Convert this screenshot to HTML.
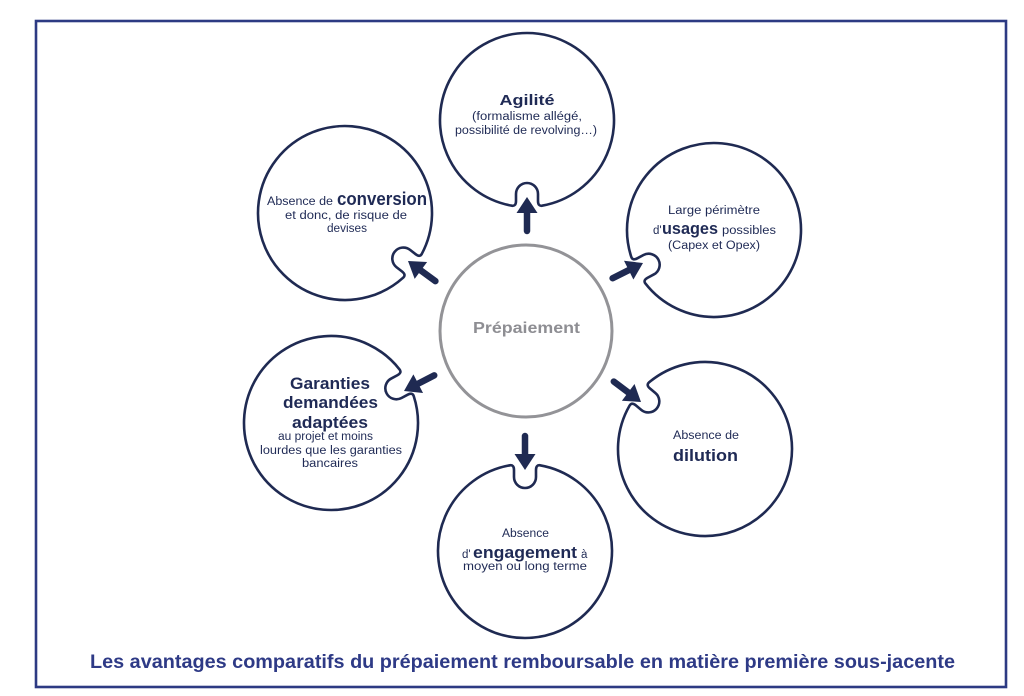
<!DOCTYPE html>
<html>
<head>
<meta charset="utf-8">
<style>
html,body{margin:0;padding:0;background:#fff;}
svg{display:block;}
text{font-family:"Liberation Sans",sans-serif;}
</style>
</head>
<body>
<svg width="1024" height="696" viewBox="0 0 1024 696" xmlns="http://www.w3.org/2000/svg">
<defs>
<path id="nc" d="M85.7,-15 A87,87 0 1 0 85.7,15 Q86.3,11 81,11 L74,11 A11,11 0 0 1 74,-11 L81,-11 Q86.3,-11 85.7,-15 Z" fill="none" stroke="#1f2a52" stroke-width="2.6" stroke-linejoin="round"/>
<g id="ar">
<line x1="-34" y1="0" x2="-13" y2="0" stroke="#1f2a52" stroke-width="6.5" stroke-linecap="round"/>
<polygon points="0,0 -16,-10.5 -16,10.5" fill="#1f2a52"/>
</g>
</defs>

<rect x="36" y="21" width="970" height="666" fill="none" stroke="#2d3a83" stroke-width="2.6"/>

<!-- center -->
<circle cx="526" cy="331" r="86" fill="none" stroke="#939397" stroke-width="3"/>
<text x="526.5" y="333" text-anchor="middle" font-size="16" font-weight="bold" fill="#8e8e93" textLength="107" lengthAdjust="spacingAndGlyphs">Prépaiement</text>

<!-- outer circles -->
<use href="#nc" transform="translate(527,120) rotate(90)"/>
<use href="#nc" transform="translate(345,213) rotate(38)"/>
<use href="#nc" transform="translate(714,230) rotate(152)"/>
<use href="#nc" transform="translate(331,423) rotate(-28)"/>
<use href="#nc" transform="translate(705,449) rotate(-140)"/>
<use href="#nc" transform="translate(525,551) rotate(-90)"/>

<!-- arrows -->
<use href="#ar" transform="translate(527,197) rotate(-90)"/>
<use href="#ar" transform="translate(408,261) rotate(216.3)"/>
<use href="#ar" transform="translate(643,263) rotate(-26.6)"/>
<use href="#ar" transform="translate(404,391) rotate(152.7)"/>
<use href="#ar" transform="translate(641,402) rotate(36.9)"/>
<use href="#ar" transform="translate(525,470) rotate(90)"/>

<g fill="#1f2a55">
<!-- Agilité -->
<text x="527" y="105" text-anchor="middle" font-size="15" font-weight="bold" textLength="55" lengthAdjust="spacingAndGlyphs">Agilité</text>
<text x="527" y="120" text-anchor="middle" font-size="11.5" textLength="110" lengthAdjust="spacingAndGlyphs">(formalisme allégé,</text>
<text x="526" y="134" text-anchor="middle" font-size="11.5" textLength="142" lengthAdjust="spacingAndGlyphs">possibilité de revolving…)</text>

<!-- conversion -->
<text x="267" y="205" font-size="11.5" textLength="66" lengthAdjust="spacingAndGlyphs">Absence de</text>
<text x="337" y="205" font-size="18" font-weight="bold" textLength="90" lengthAdjust="spacingAndGlyphs">conversion</text>
<text x="346" y="219" text-anchor="middle" font-size="11.5" textLength="122" lengthAdjust="spacingAndGlyphs">et donc, de risque de</text>
<text x="347" y="232" text-anchor="middle" font-size="11.5" textLength="40" lengthAdjust="spacingAndGlyphs">devises</text>

<!-- usages -->
<text x="714" y="214" text-anchor="middle" font-size="11.5" textLength="92" lengthAdjust="spacingAndGlyphs">Large périmètre</text>
<text x="653" y="234" font-size="11.5">d'</text>
<text x="662" y="234" font-size="17" font-weight="bold" textLength="56" lengthAdjust="spacingAndGlyphs">usages</text>
<text x="722" y="234" font-size="11.5" textLength="54" lengthAdjust="spacingAndGlyphs">possibles</text>
<text x="714" y="249" text-anchor="middle" font-size="11.5" textLength="92" lengthAdjust="spacingAndGlyphs">(Capex et Opex)</text>

<!-- dilution -->
<text x="706" y="439" text-anchor="middle" font-size="11.5" textLength="66" lengthAdjust="spacingAndGlyphs">Absence de</text>
<text x="705.5" y="461" text-anchor="middle" font-size="17" font-weight="bold" textLength="65" lengthAdjust="spacingAndGlyphs">dilution</text>

<!-- garanties -->
<text x="330" y="389" text-anchor="middle" font-size="17" font-weight="bold" textLength="80" lengthAdjust="spacingAndGlyphs">Garanties</text>
<text x="330.5" y="408" text-anchor="middle" font-size="17" font-weight="bold" textLength="95" lengthAdjust="spacingAndGlyphs">demandées</text>
<text x="330" y="428" text-anchor="middle" font-size="17" font-weight="bold" textLength="76" lengthAdjust="spacingAndGlyphs">adaptées</text>
<text x="325.5" y="440" text-anchor="middle" font-size="11.5" textLength="95" lengthAdjust="spacingAndGlyphs">au projet et moins</text>
<text x="331" y="454" text-anchor="middle" font-size="11.5" textLength="142" lengthAdjust="spacingAndGlyphs">lourdes que les garanties</text>
<text x="330" y="467" text-anchor="middle" font-size="11.5" textLength="56" lengthAdjust="spacingAndGlyphs">bancaires</text>

<!-- engagement -->
<text x="525.5" y="537" text-anchor="middle" font-size="11.5" textLength="47" lengthAdjust="spacingAndGlyphs">Absence</text>
<text x="462" y="558" font-size="11.5">d'</text>
<text x="473" y="558" font-size="17" font-weight="bold" textLength="104" lengthAdjust="spacingAndGlyphs">engagement</text>
<text x="581" y="558" font-size="11.5">à</text>
<text x="525" y="570" text-anchor="middle" font-size="11.5" textLength="124" lengthAdjust="spacingAndGlyphs">moyen ou long terme</text>
</g>

<!-- title -->
<text x="90" y="668" font-size="19" font-weight="bold" fill="#2e3a86" textLength="865" lengthAdjust="spacingAndGlyphs">Les avantages comparatifs du prépaiement remboursable en matière première sous-jacente</text>
</svg>
</body>
</html>
